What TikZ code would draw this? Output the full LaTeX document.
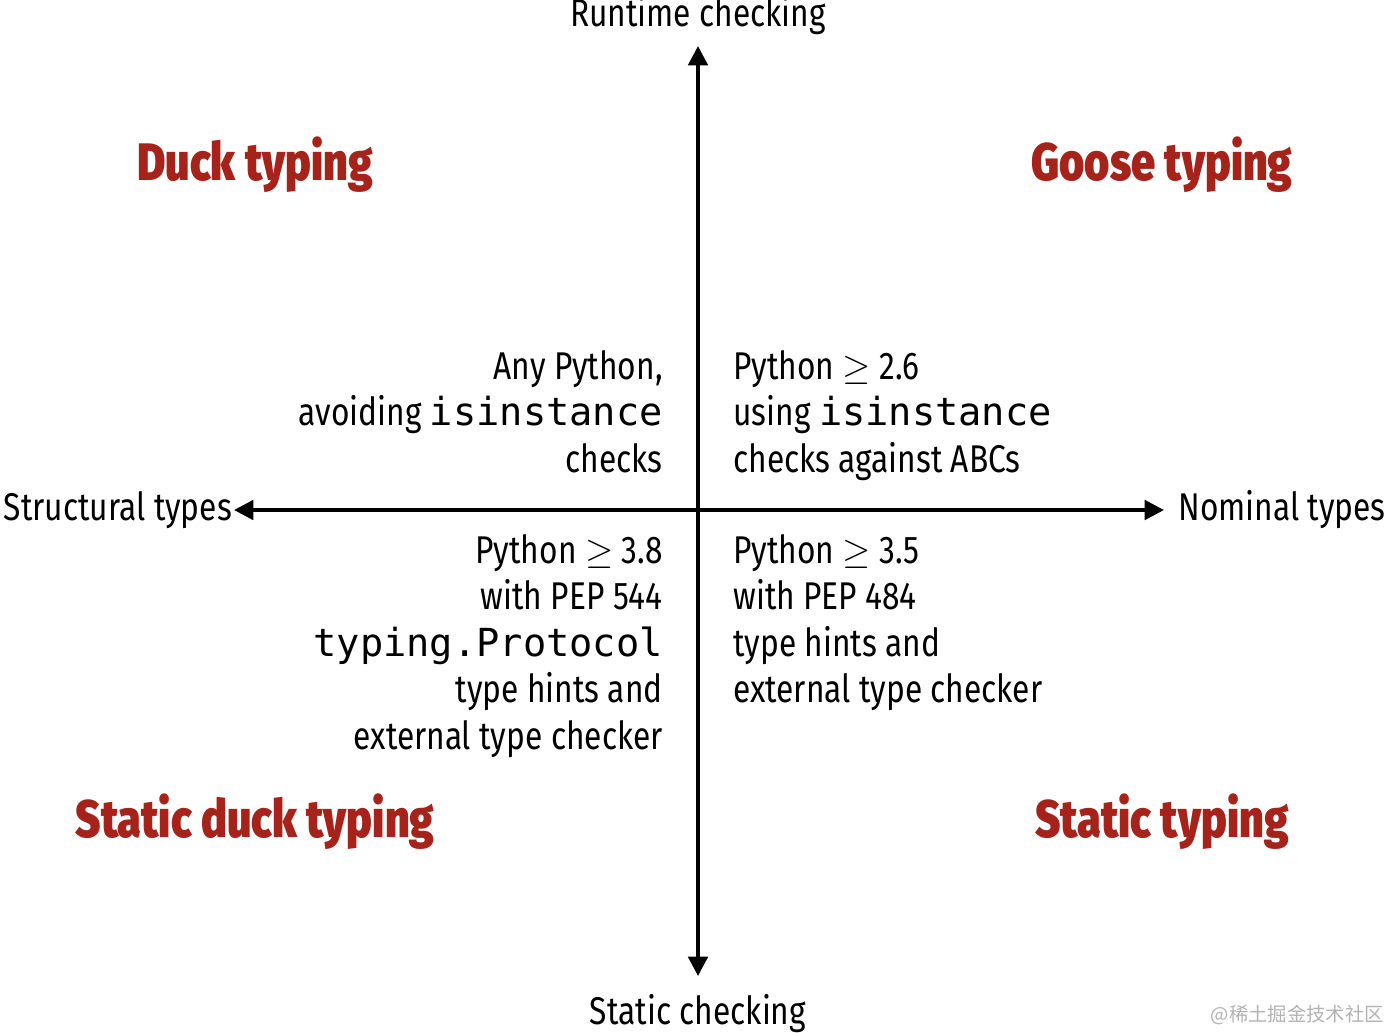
\documentclass[tikz,border=0pt]{standalone}
\usepackage{fontspec}
\setmainfont{Fira Sans}[FakeStretch=0.82]
\setmonofont{DejaVu Sans Mono}
\newfontfamily\titlefont{Fira Sans Black}[FakeStretch=0.82]
\newfontfamily\cjk{Noto Sans CJK SC}
\usetikzlibrary{arrows.meta,positioning}
\definecolor{duckred}{HTML}{A5231B}
\tikzset{
    axis/.style={
        draw=black,
        line width=2.2pt,
        -{Triangle[length=11pt,width=11pt]},
    },
    axislabel/.style={
        font=\fontsize{22}{24}\selectfont,
        inner sep=0pt,
    },
    quadrant/.style={
        font=\fontsize{30}{32}\selectfont\titlefont,
        text=duckred,
        inner sep=0pt,
    },
    info/.style={
        font=\fontsize{22}{26.5}\selectfont,
        inner sep=0pt,
    },
}
\begin{document}
\begin{tikzpicture}[x=0.02cm,y=-0.02cm]
    \useasboundingbox (0,0) rectangle (1396,1032);

    \coordinate (O) at (698,510);
    \coordinate (top) at (698,46);
    \coordinate (bottom) at (698,976);
    \coordinate (left) at (234,510);
    \coordinate (right) at (1164,510);

    \draw[axis] (O) -- (top);
    \draw[axis] (O) -- (bottom);
    \draw[axis] (O) -- (left);
    \draw[axis] (O) -- (right);

    \node [axislabel, above=6pt of top] (runtime) {Runtime checking};
    \node [axislabel, below=10pt of bottom] (static) {Static checking};
    \node [axislabel, left=1pt of left] (structural) {Structural types};
    \node [axislabel, right=8pt of right] (nominal) {Nominal types};

    \node [quadrant] (duck) at (255,165) {Duck typing};
    \node [quadrant] (goose) at (1162,165) {Goose typing};
    \node [quadrant] (sduck) at (255,822) {Static duck typing};
    \node [quadrant] (stype) at (1162,822) {Static typing};

    \node [info, anchor=north east, align=right] (ul) at (663,350)
        {Any Python,\\ avoiding \texttt{isinstance}\\ checks};
    \node [info, anchor=north west, align=left] (ur) at (733,350)
        {Python $\geq$ 2.6\\ using \texttt{isinstance}\\ checks against ABCs};
    \node [info, anchor=north east, align=right] (ll) at (663,534)
        {Python $\geq$ 3.8\\ with PEP 544\\ \texttt{typing.Protocol}\\ type hints and\\ external type checker};
    \node [info, anchor=north west, align=left] (lr) at (733,534)
        {Python $\geq$ 3.5\\ with PEP 484\\ type hints and\\ external type checker};

    \node [anchor=east, text=gray!60, font=\cjk\fontsize{11}{12}\selectfont] (mark) at (1390,1015) {@稀土掘金技术社区};
\end{tikzpicture}
\end{document}
